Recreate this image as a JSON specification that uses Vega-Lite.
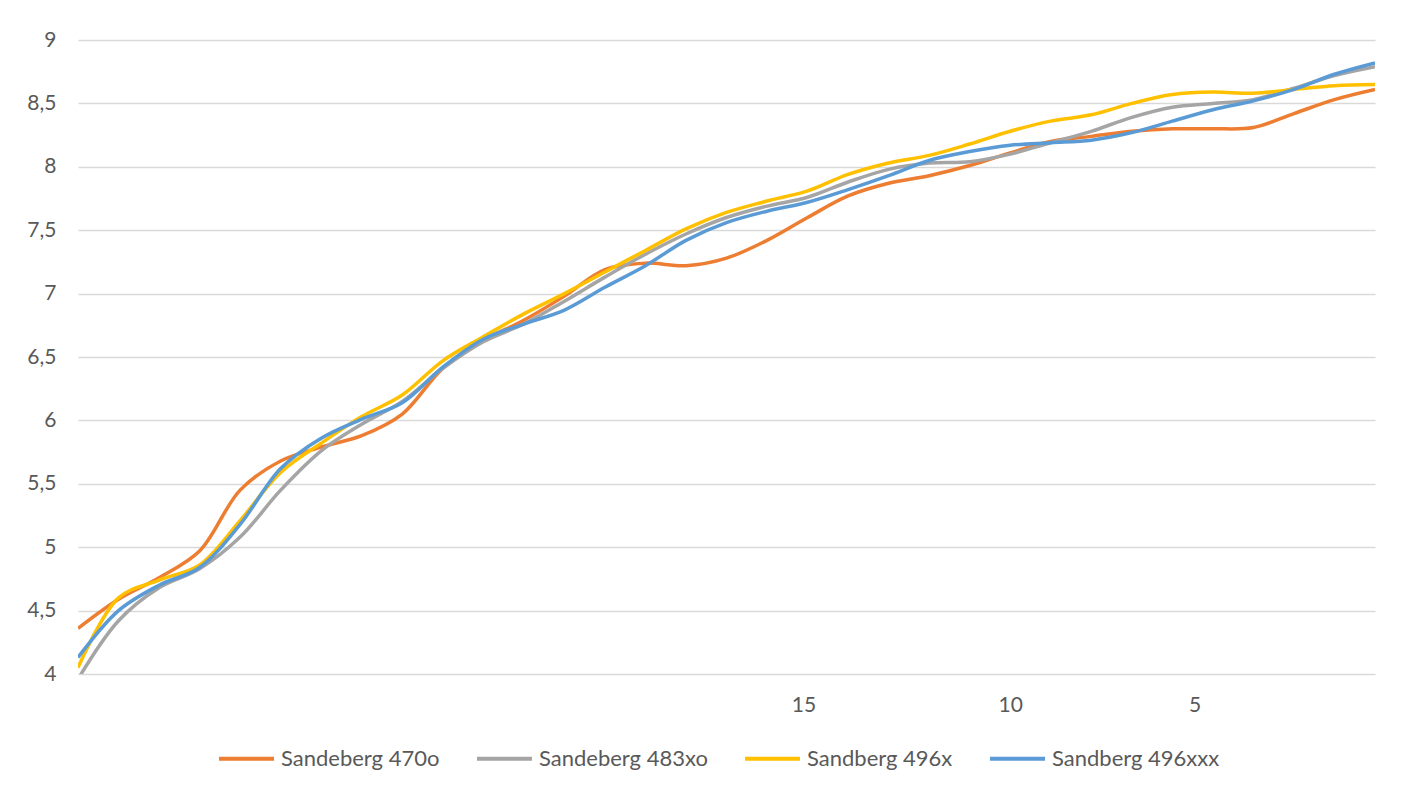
{
  "$schema": "https://vega.github.io/schema/vega-lite/v6.json",
  "width": 1297,
  "height": 634,
  "autosize": {"type": "none"},
  "padding": {"left": 78, "top": 40, "right": 31, "bottom": 116},
  "background": "white",
  "config": {
    "view": {"stroke": null},
    "font": "Lato",
    "axis": {"labelFont": "Lato", "labelColor": "#595959", "labelFontSize": 21}
  },
  "data": {
    "values": [
      {"i": 0, "Sandeberg 470o": 4.36, "Sandeberg 483xo": 3.96, "Sandberg 496x": 4.05, "Sandberg 496xxx": 4.13},
      {"i": 1, "Sandeberg 470o": 4.59, "Sandeberg 483xo": 4.42, "Sandberg 496x": 4.60, "Sandberg 496xxx": 4.50},
      {"i": 2, "Sandeberg 470o": 4.76, "Sandeberg 483xo": 4.68, "Sandberg 496x": 4.74, "Sandberg 496xxx": 4.70},
      {"i": 3, "Sandeberg 470o": 4.97, "Sandeberg 483xo": 4.83, "Sandberg 496x": 4.86, "Sandberg 496xxx": 4.84},
      {"i": 4, "Sandeberg 470o": 5.45, "Sandeberg 483xo": 5.08, "Sandberg 496x": 5.21, "Sandberg 496xxx": 5.18},
      {"i": 5, "Sandeberg 470o": 5.68, "Sandeberg 483xo": 5.45, "Sandberg 496x": 5.59, "Sandberg 496xxx": 5.62},
      {"i": 6, "Sandeberg 470o": 5.79, "Sandeberg 483xo": 5.76, "Sandberg 496x": 5.82, "Sandberg 496xxx": 5.86},
      {"i": 7, "Sandeberg 470o": 5.88, "Sandeberg 483xo": 5.97, "Sandberg 496x": 6.03, "Sandberg 496xxx": 6.01},
      {"i": 8, "Sandeberg 470o": 6.05, "Sandeberg 483xo": 6.15, "Sandberg 496x": 6.20, "Sandberg 496xxx": 6.14},
      {"i": 9, "Sandeberg 470o": 6.41, "Sandeberg 483xo": 6.41, "Sandberg 496x": 6.47, "Sandberg 496xxx": 6.42},
      {"i": 10, "Sandeberg 470o": 6.63, "Sandeberg 483xo": 6.62, "Sandberg 496x": 6.66, "Sandberg 496xxx": 6.64},
      {"i": 11, "Sandeberg 470o": 6.79, "Sandeberg 483xo": 6.76, "Sandberg 496x": 6.84, "Sandberg 496xxx": 6.76},
      {"i": 12, "Sandeberg 470o": 6.98, "Sandeberg 483xo": 6.94, "Sandberg 496x": 7.00, "Sandberg 496xxx": 6.87},
      {"i": 13, "Sandeberg 470o": 7.19, "Sandeberg 483xo": 7.13, "Sandberg 496x": 7.17, "Sandberg 496xxx": 7.05},
      {"i": 14, "Sandeberg 470o": 7.24, "Sandeberg 483xo": 7.31, "Sandberg 496x": 7.34, "Sandberg 496xxx": 7.22},
      {"i": 15, "Sandeberg 470o": 7.22, "Sandeberg 483xo": 7.47, "Sandberg 496x": 7.51, "Sandberg 496xxx": 7.42},
      {"i": 16, "Sandeberg 470o": 7.28, "Sandeberg 483xo": 7.60, "Sandberg 496x": 7.64, "Sandberg 496xxx": 7.56},
      {"i": 17, "Sandeberg 470o": 7.42, "Sandeberg 483xo": 7.69, "Sandberg 496x": 7.73, "Sandberg 496xxx": 7.65},
      {"i": 18, "Sandeberg 470o": 7.60, "Sandeberg 483xo": 7.76, "Sandberg 496x": 7.81, "Sandberg 496xxx": 7.72},
      {"i": 19, "Sandeberg 470o": 7.77, "Sandeberg 483xo": 7.88, "Sandberg 496x": 7.94, "Sandberg 496xxx": 7.82},
      {"i": 20, "Sandeberg 470o": 7.87, "Sandeberg 483xo": 7.98, "Sandberg 496x": 8.03, "Sandberg 496xxx": 7.93},
      {"i": 21, "Sandeberg 470o": 7.93, "Sandeberg 483xo": 8.03, "Sandberg 496x": 8.09, "Sandberg 496xxx": 8.05},
      {"i": 22, "Sandeberg 470o": 8.01, "Sandeberg 483xo": 8.04, "Sandberg 496x": 8.18, "Sandberg 496xxx": 8.12},
      {"i": 23, "Sandeberg 470o": 8.11, "Sandeberg 483xo": 8.10, "Sandberg 496x": 8.28, "Sandberg 496xxx": 8.17},
      {"i": 24, "Sandeberg 470o": 8.20, "Sandeberg 483xo": 8.19, "Sandberg 496x": 8.36, "Sandberg 496xxx": 8.19},
      {"i": 25, "Sandeberg 470o": 8.24, "Sandeberg 483xo": 8.28, "Sandberg 496x": 8.41, "Sandberg 496xxx": 8.21},
      {"i": 26, "Sandeberg 470o": 8.28, "Sandeberg 483xo": 8.39, "Sandberg 496x": 8.50, "Sandberg 496xxx": 8.27},
      {"i": 27, "Sandeberg 470o": 8.30, "Sandeberg 483xo": 8.47, "Sandberg 496x": 8.57, "Sandberg 496xxx": 8.36},
      {"i": 28, "Sandeberg 470o": 8.30, "Sandeberg 483xo": 8.50, "Sandberg 496x": 8.59, "Sandberg 496xxx": 8.45},
      {"i": 29, "Sandeberg 470o": 8.31, "Sandeberg 483xo": 8.53, "Sandberg 496x": 8.58, "Sandberg 496xxx": 8.52},
      {"i": 30, "Sandeberg 470o": 8.42, "Sandeberg 483xo": 8.62, "Sandberg 496x": 8.61, "Sandberg 496xxx": 8.61},
      {"i": 31, "Sandeberg 470o": 8.53, "Sandeberg 483xo": 8.72, "Sandberg 496x": 8.64, "Sandberg 496xxx": 8.73},
      {"i": 32, "Sandeberg 470o": 8.61, "Sandeberg 483xo": 8.79, "Sandberg 496x": 8.65, "Sandberg 496xxx": 8.82}
    ]
  },
  "transform": [
    {"fold": ["Sandeberg 470o", "Sandeberg 483xo", "Sandberg 496x", "Sandberg 496xxx"], "as": ["series", "value"]}
  ],
  "encoding": {
    "x": {
      "field": "i", "type": "quantitative",
      "scale": {"domain": [0, 32], "nice": false, "zero": false},
      "axis": {
        "title": null, "grid": false, "domain": false, "ticks": false,
        "values": [17.9, 23, 27.55],
        "labelExpr": "datum.value < 20 ? '15' : datum.value < 25 ? '10' : '5'",
        "labelPadding": 20
      }
    },
    "y": {
      "field": "value", "type": "quantitative",
      "scale": {"domain": [4, 9], "nice": false, "zero": false},
      "axis": {
        "title": null, "domain": false, "ticks": false,
        "values": [4, 4.5, 5, 5.5, 6, 6.5, 7, 7.5, 8, 8.5, 9],
        "labelExpr": "replace(toString(datum.value), '.', ',')",
        "labelPadding": 22,
        "gridColor": "#D9D9D9", "gridWidth": 1.5
      }
    },
    "color": {
      "field": "series", "type": "nominal",
      "scale": {
        "domain": ["Sandeberg 470o", "Sandeberg 483xo", "Sandberg 496x", "Sandberg 496xxx"],
        "range": ["#ED7D31", "#A5A5A5", "#FFC000", "#5B9BD5"]
      },
      "legend": {
        "title": null, "orient": "none", "direction": "horizontal",
        "legendX": 139, "legendY": 689,
        "symbolType": "stroke", "symbolSize": 3025, "symbolStrokeWidth": 4,
        "labelFont": "Lato", "labelFontSize": 22, "labelColor": "#595959", "labelLimit": 0,
        "labelOffset": 5, "columnPadding": 29
      }
    }
  },
  "layer": [
    {"transform": [{"filter": "datum.series == 'Sandeberg 470o'"}], "mark": {"type": "line", "interpolate": "catmull-rom", "strokeWidth": 3.5, "clip": true}},
    {"transform": [{"filter": "datum.series == 'Sandeberg 483xo'"}], "mark": {"type": "line", "interpolate": "catmull-rom", "strokeWidth": 3.5, "clip": true}},
    {"transform": [{"filter": "datum.series == 'Sandberg 496x'"}], "mark": {"type": "line", "interpolate": "catmull-rom", "strokeWidth": 3.5, "clip": true}},
    {"transform": [{"filter": "datum.series == 'Sandberg 496xxx'"}], "mark": {"type": "line", "interpolate": "catmull-rom", "strokeWidth": 3.5, "clip": true}}
  ]
}
